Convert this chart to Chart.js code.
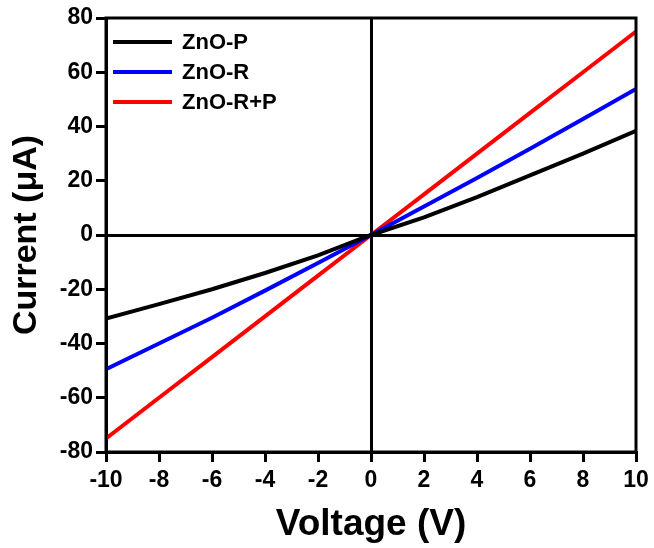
<!DOCTYPE html>
<html>
<head>
<meta charset="utf-8">
<script src="https://cdn.jsdelivr.net/npm/chart.js@4/dist/chart.umd.min.js"></script>
<style>
  html, body { margin: 0; padding: 0; background: #fff; }
  #wrap { width: 654px; height: 548px; position: relative; }
</style>
</head>
<body>
<div id="wrap"><canvas id="ivChart"></canvas></div>
<script>
// ── Data ──
const voltage = [-10, -8, -6, -4, -2, 0, 2, 4, 6, 8, 10];
const currentP = [-30.8, -25.5, -20, -14, -7.5, 0, 6.5, 14, 22, 30, 38.4];
const currentR = [-49.5, -40, -30.5, -20.5, -10.3, 0, 10.5, 21, 31.8, 42.8, 53.8];
const currentRP = [-75, -60, -45, -30, -15, 0, 15, 30, 45, 60, 75];
const seriesLabels = ['ZnO-P', 'ZnO-R', 'ZnO-R+P'];
const seriesColors = ['#000000', '#0000ff', '#ff0000'];

const FONT = 'Liberation Sans, Arial, sans-serif';

function toPoints(ys) {
  return voltage.map((v, i) => ({ x: v, y: ys[i] }));
}

// frame around the plot + legend drawn inside the plot area
const framePlugin = {
  id: 'frame',
  afterDatasetsDraw(chart) {
    const { ctx, chartArea: a } = chart;
    ctx.save();
    ctx.strokeStyle = '#000';
    ctx.lineWidth = 3;
    ctx.strokeRect(a.left, a.top, a.right - a.left, a.bottom - a.top);

    // legend
    ctx.font = 'bold 22px ' + FONT;
    ctx.textBaseline = 'middle';
    ctx.lineWidth = 4;
    chart.data.datasets.forEach((ds, i) => {
      const y = a.top + 24 + i * 30;
      ctx.strokeStyle = ds.borderColor;
      ctx.beginPath();
      ctx.moveTo(a.left + 7, y);
      ctx.lineTo(a.left + 66, y);
      ctx.stroke();
      ctx.fillStyle = '#000';
      ctx.fillText(ds.label, a.left + 76, y + 1);
    });
    ctx.restore();
  }
};

const zeroLine = (c) => (c.tick && c.tick.value === 0 ? '#000' : 'rgba(0,0,0,0)');

new Chart(document.getElementById('ivChart'), {
  type: 'line',
  data: {
    datasets: [currentP, currentR, currentRP].map((ys, i) => ({
      label: seriesLabels[i],
      data: toPoints(ys),
      borderColor: seriesColors[i],
      backgroundColor: seriesColors[i],
      borderWidth: 4,
      pointRadius: 0,
      tension: 0,
    })),
  },
  options: {
    responsive: true,
    maintainAspectRatio: false,
    animation: false,
    layout: { padding: { top: 18, right: 18, left: 0, bottom: 0 } },
    plugins: {
      legend: { display: false },
      tooltip: { enabled: false },
    },
    scales: {
      x: {
        type: 'linear',
        min: -10,
        max: 10,
        afterFit(s) { s.height = 96; },
        ticks: {
          stepSize: 2,
          color: '#000',
          font: { family: FONT, size: 23, weight: 'bold' },
          padding: 5,
          maxRotation: 0,
          autoSkip: false,
          callback: (v) => String(v),
        },
        grid: { color: zeroLine, lineWidth: 3, tickColor: '#000', tickLength: 10, drawOnChartArea: true },
        border: { display: true, color: '#000', width: 3 },
        title: {
          display: true,
          text: 'Voltage (V)',
          color: '#000',
          font: { family: FONT, size: 37, weight: 'bold' },
          padding: { top: 0, bottom: 1 },
        },
      },
      y: {
        min: -80,
        max: 80,
        afterFit(s) { s.width = 106; },
        ticks: {
          stepSize: 20,
          color: '#000',
          font: { family: FONT, size: 23, weight: 'bold' },
          padding: 3,
          autoSkip: false,
          callback: (v) => String(v),
        },
        grid: { color: zeroLine, lineWidth: 3, tickColor: '#000', tickLength: 10, drawOnChartArea: true },
        border: { display: true, color: '#000', width: 3 },
        title: {
          display: true,
          text: 'Current (\u03bcA)',
          color: '#000',
          font: { family: FONT, size: 34, weight: 'bold' },
          padding: { top: 6, bottom: 0 },
        },
      },
    },
  },
  plugins: [framePlugin],
});
</script>
</body>
</html>
